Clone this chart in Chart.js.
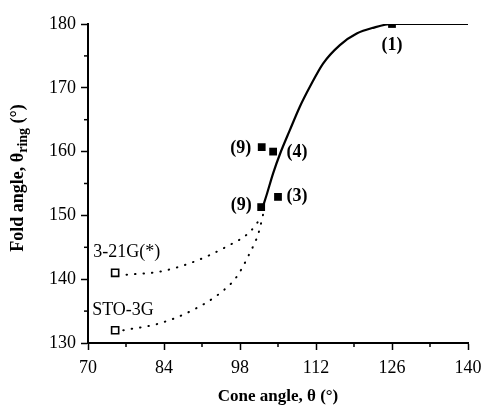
<!DOCTYPE html>
<html>
<head>
<meta charset="utf-8">
<script src="https://cdn.jsdelivr.net/npm/chart.js@4.4.0/dist/chart.umd.min.js"></script>
<style>
html,body{margin:0;padding:0;background:#fff}
#graf{width:483px;height:408px}
</style>
</head>
<body>
<div id="graf"><canvas id="myChart" width="483" height="408"></canvas></div>
<script>
// axis ticks
var xTicks = [70, 84, 98, 112, 126, 140]
var yTicks = [130, 140, 150, 160, 170, 180]

// measured complexes (filled squares)
var complexX = [126, 104.1, 105.0, 102.0, 101.9]
var complexY = [180, 160.0, 152.9, 160.7, 151.3]
var complexLabels = ["(1)", "(4)", "(3)", "(9)", "(9)"]

// calculated (open squares)
var calcX = [75, 75]
var calcY = [141, 132]
var calcLabels = ["3-21G(*)", "STO-3G"]

// solid fit curve
var fitX = [102.3, 102.9, 104.1, 105.4, 107.2, 109.0, 110.9, 113.3, 116.4, 119.5, 122.5, 126, 140]
var fitY = [151.6, 153.2, 156.6, 159.7, 163.4, 167.0, 170.2, 173.8, 176.7, 178.5, 179.4, 180, 180]

// dotted guides
var dot321X = [77.1, 83.3, 89.4, 95.5, 99.8, 102.0]
var dot321Y = [140.7, 141.2, 142.7, 145.1, 147.4, 149.8]
var dotStoX = [76.5, 83.3, 89.4, 94.3, 97.4, 99.8, 101.4, 102.3]
var dotStoY = [132.0, 133.1, 135.2, 137.8, 140.4, 144.1, 147.2, 150.3]

function pts(xs, ys) {
    var out = []
    for (var i = 0; i < xs.length; i++) out.push({x: xs[i], y: ys[i]})
    return out
}

var serif = "'Liberation Serif', 'DejaVu Serif', serif"

// label offsets in pixels from each square
var complexOff = [[0, 21], [24, 1], [19, -1], [-21, 1], [-20, -2]]
var calcOff = [[-22, -21], [-23, -20]]

const extras = {
    id: "extras",
    afterDraw(chart) {
        const ctx = chart.ctx
        const xs = chart.scales.x
        const ys = chart.scales.y
        const bottom = chart.chartArea.bottom
        const left = chart.chartArea.left
        ctx.save()
        // minor ticks
        ctx.strokeStyle = "#000"
        ctx.lineWidth = 1.5
        for (var v = 77; v < 140; v += 14) {
            var px = xs.getPixelForValue(v)
            ctx.beginPath(); ctx.moveTo(px, bottom); ctx.lineTo(px, bottom + 4); ctx.stroke()
        }
        for (var w = 135; w < 180; w += 10) {
            var py = ys.getPixelForValue(w)
            ctx.beginPath(); ctx.moveTo(left, py); ctx.lineTo(left - 4, py); ctx.stroke()
        }
        // point labels
        ctx.fillStyle = "#000"
        ctx.textBaseline = "middle"
        ctx.textAlign = "center"
        ctx.font = "bold 18px " + serif
        for (var i = 0; i < complexX.length; i++) {
            ctx.fillText(complexLabels[i],
                xs.getPixelForValue(complexX[i]) + complexOff[i][0],
                ys.getPixelForValue(complexY[i]) + complexOff[i][1])
        }
        ctx.textAlign = "left"
        ctx.font = "18px " + serif
        for (var j = 0; j < calcX.length; j++) {
            ctx.fillText(calcLabels[j],
                xs.getPixelForValue(calcX[j]) + calcOff[j][0],
                ys.getPixelForValue(calcY[j]) + calcOff[j][1])
        }
        // axis titles
        ctx.textAlign = "center"
        ctx.font = "bold 17px " + serif
        ctx.fillText("Cone angle, \u03b8 (\u00b0)", (chart.chartArea.left + chart.chartArea.right) / 2, 397)

        ctx.translate(18, 178)
        ctx.rotate(-Math.PI / 2)
        var a = "Fold angle, \u03b8"
        var s = "ring"
        var b = " (\u00b0)"
        ctx.font = "bold 18px " + serif
        var wa = ctx.measureText(a).width
        var wb = ctx.measureText(b).width
        ctx.font = "bold 14px " + serif
        var ws = ctx.measureText(s).width
        var x0 = -(wa + ws + wb) / 2
        ctx.textAlign = "left"
        ctx.font = "bold 18px " + serif
        ctx.fillText(a, x0, 0)
        ctx.font = "bold 14px " + serif
        ctx.fillText(s, x0 + wa, 5)
        ctx.font = "bold 18px " + serif
        ctx.fillText(b, x0 + wa + ws, 0)
        ctx.restore()
    }
}

new Chart("myChart", {
    type: "scatter",
    data: {
        datasets: [
            {
                data: pts(fitX, fitY),
                showLine: true,
                borderColor: "#000",
                borderWidth: 2.2,
                pointRadius: 0,
                cubicInterpolationMode: "monotone"
            },
            {
                data: pts(dot321X, dot321Y),
                showLine: true,
                borderColor: "#000",
                borderWidth: 2,
                borderDash: [0.5, 8],
                borderCapStyle: "round",
                pointRadius: 0,
                cubicInterpolationMode: "monotone"
            },
            {
                data: pts(dotStoX, dotStoY),
                showLine: true,
                borderColor: "#000",
                borderWidth: 2,
                borderDash: [0.5, 8],
                borderCapStyle: "round",
                pointRadius: 0,
                cubicInterpolationMode: "monotone"
            },
            {
                data: pts(complexX, complexY),
                pointStyle: "rect",
                pointRadius: 5.5,
                backgroundColor: "#000",
                borderColor: "#000",
                borderWidth: 0
            },
            {
                data: pts(calcX, calcY),
                pointStyle: "rect",
                pointRadius: 5,
                backgroundColor: "#fff",
                borderColor: "#000",
                borderWidth: 1.6
            }
        ]
    },
    options: {
        responsive: false,
        animation: false,
        layout: {padding: {left: 0, right: 15, top: 24, bottom: 0}},
        plugins: {legend: {display: false}, tooltip: {enabled: false}},
        scales: {
            x: {
                type: "linear",
                min: 70, max: 140,
                afterBuildTicks: function (scale) { scale.ticks = xTicks.map(function (v) { return {value: v} }) },
                afterFit: function (scale) { scale.height = 65; scale.paddingLeft = 0; scale.paddingRight = 0 },
                border: {color: "#000", width: 2},
                grid: {drawOnChartArea: false, tickLength: 7, tickWidth: 1.5, tickColor: "#000"},
                ticks: {color: "#000", font: {family: serif, size: 18}, padding: 7, maxRotation: 0}
            },
            y: {
                type: "linear",
                min: 130, max: 180,
                afterBuildTicks: function (scale) { scale.ticks = yTicks.map(function (v) { return {value: v} }) },
                afterFit: function (scale) { scale.width = 88; scale.paddingTop = 0; scale.paddingBottom = 0 },
                border: {color: "#000", width: 2},
                grid: {drawOnChartArea: false, tickLength: 7, tickWidth: 1.5, tickColor: "#000"},
                ticks: {color: "#000", font: {family: serif, size: 18}, padding: 5}
            }
        }
    },
    plugins: [extras]
})
</script>
</body>
</html>
